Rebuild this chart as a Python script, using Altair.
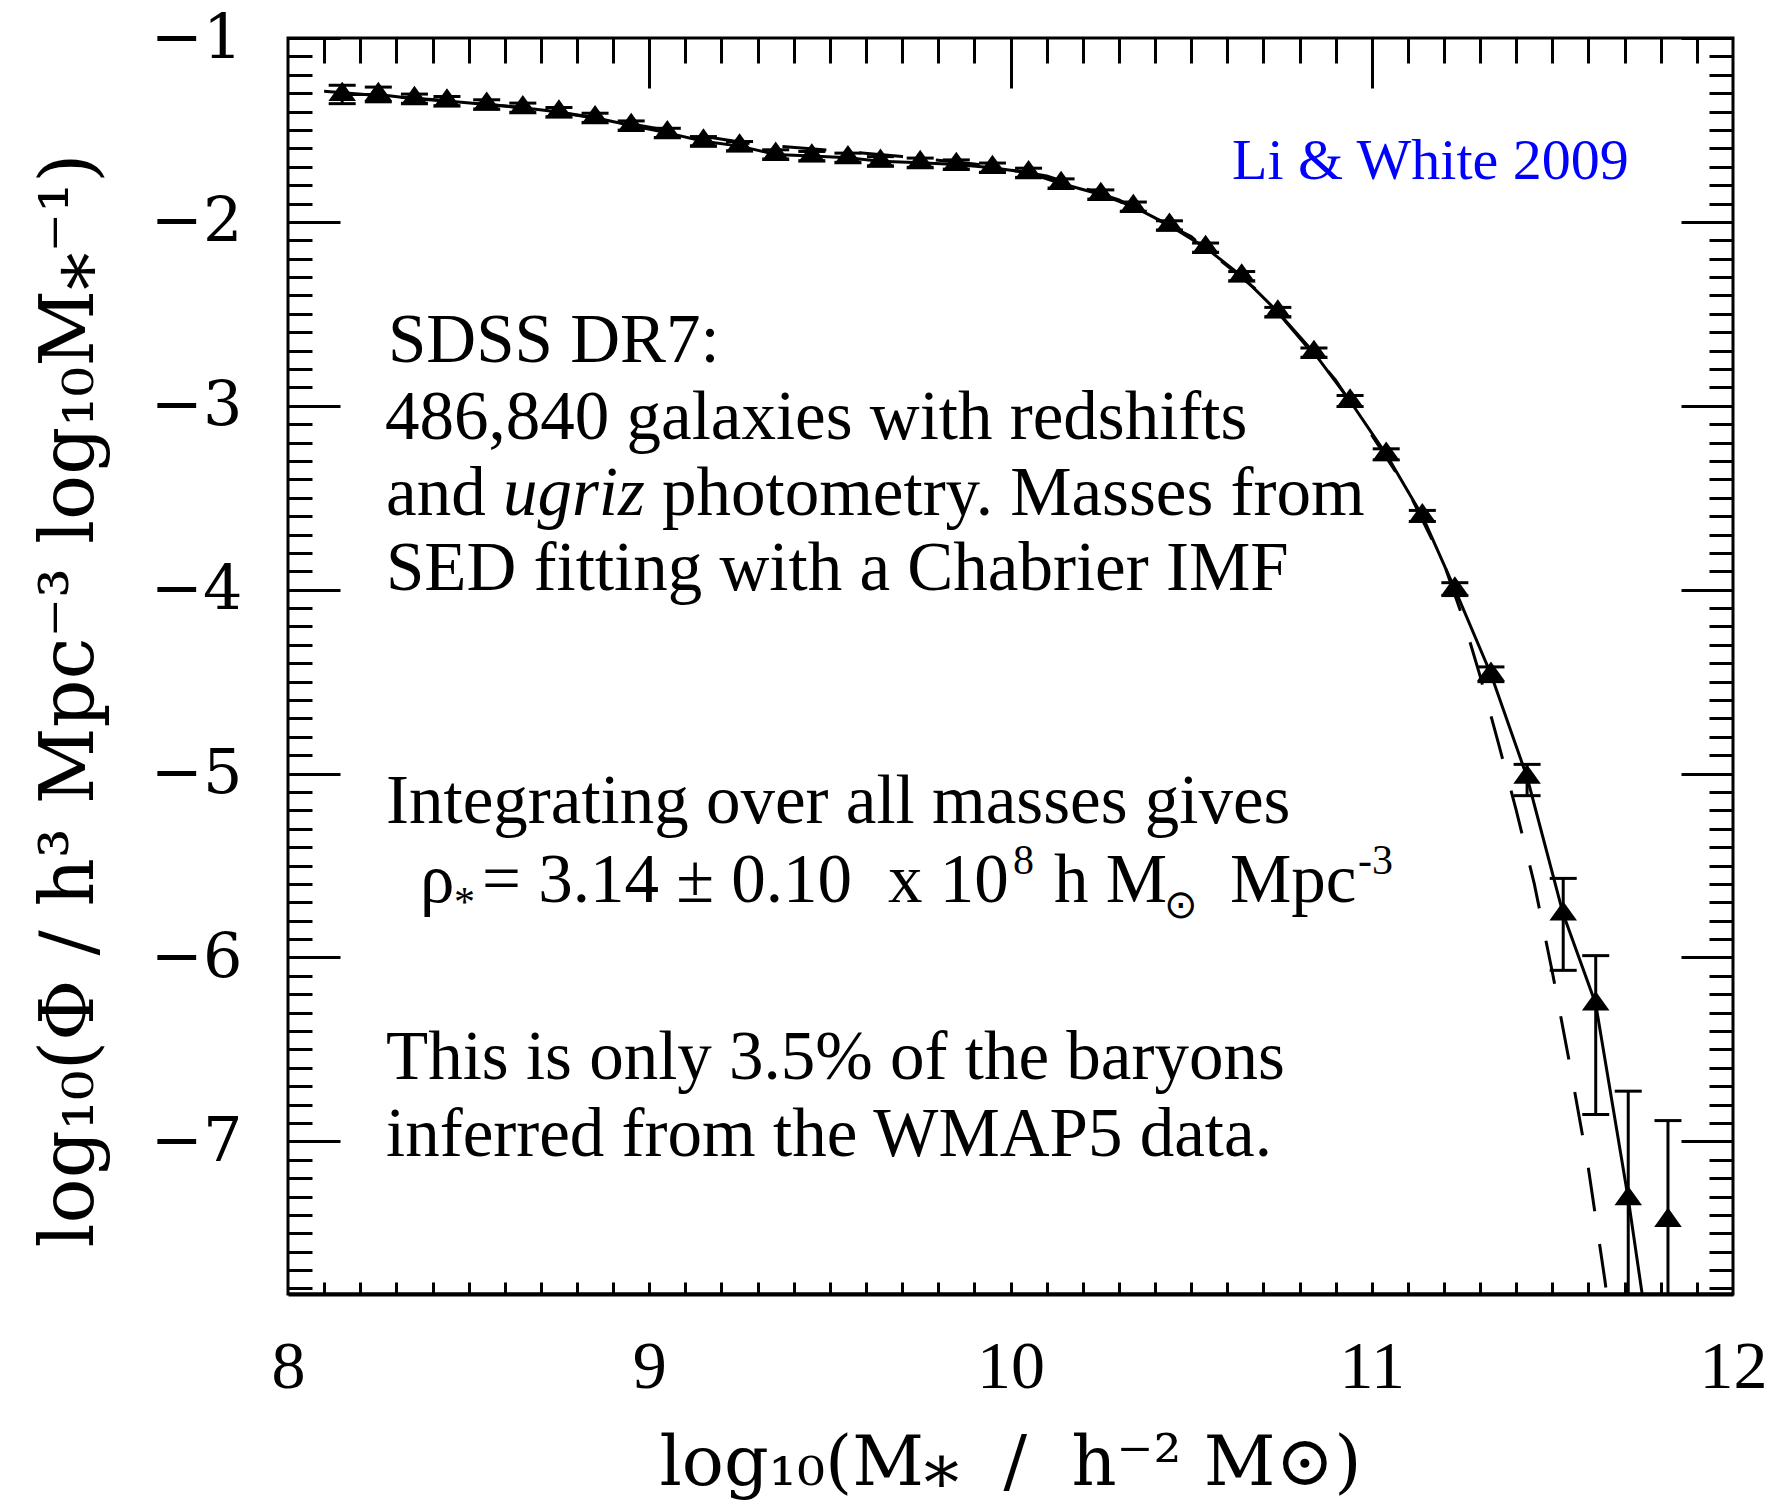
import altair as alt
import pandas as pd

# ---- stellar mass function (SDSS DR7) ----
MASS = [8.15, 8.25, 8.35, 8.44, 8.55, 8.65, 8.75, 8.85, 8.95, 9.05,
        9.15, 9.25, 9.35, 9.45, 9.55, 9.64, 9.75, 9.85, 9.95, 10.05,
        10.14, 10.25, 10.34, 10.44, 10.54, 10.64, 10.74, 10.84, 10.94, 11.04,
        11.14, 11.23, 11.33, 11.43, 11.53, 11.62, 11.71, 11.82]
LOGPHI = [-1.307, -1.307, -1.330, -1.343, -1.361, -1.379, -1.403, -1.434, -1.476, -1.516,
          -1.561, -1.588, -1.633, -1.642, -1.651, -1.670, -1.678, -1.688, -1.705, -1.733,
          -1.791, -1.851, -1.917, -2.019, -2.140, -2.295, -2.490, -2.711, -2.974, -3.264,
          -3.599, -3.997, -4.460, -5.020, -5.764, -6.253, -7.312, -7.430]
PHI_HI = [-1.257, -1.267, -1.305, -1.318, -1.336, -1.354, -1.378, -1.409, -1.451, -1.491,
          -1.536, -1.563, -1.608, -1.617, -1.626, -1.645, -1.653, -1.663, -1.680, -1.708,
          -1.766, -1.826, -1.892, -1.994, -2.115, -2.270, -2.465, -2.686, -2.944, -3.234,
          -3.569, -3.962, -4.420, -4.950, -5.570, -5.990, -6.727, -6.887]
PHI_LO = [-1.357, -1.347, -1.355, -1.368, -1.386, -1.404, -1.428, -1.459, -1.501, -1.541,
          -1.586, -1.613, -1.658, -1.667, -1.676, -1.695, -1.703, -1.713, -1.730, -1.758,
          -1.816, -1.876, -1.942, -2.044, -2.165, -2.320, -2.515, -2.736, -3.004, -3.294,
          -3.629, -4.032, -4.500, -5.120, -6.070, -6.854, -8.600, -8.600]

# best-fitting curve (solid) and single-component fit (dashed)
SOLID_MASS = [8.15, 8.25, 8.35, 8.44, 8.55, 8.65, 8.75, 8.85, 8.95, 9.05,
              9.15, 9.25, 9.35, 9.45, 9.55, 9.64, 9.75, 9.85, 9.95, 10.05,
              10.14, 10.25, 10.34, 10.44, 10.54, 10.64, 10.74, 10.84, 10.94, 11.04,
              11.14, 11.23, 11.33, 11.43, 11.53, 11.62, 11.71, 11.75]
SOLID_LOGPHI = [-1.307, -1.307, -1.330, -1.343, -1.361, -1.379, -1.403, -1.434, -1.476, -1.516,
                -1.561, -1.588, -1.633, -1.642, -1.651, -1.670, -1.678, -1.688, -1.705, -1.733,
                -1.791, -1.851, -1.917, -2.019, -2.140, -2.295, -2.490, -2.711, -2.974, -3.264,
                -3.599, -3.997, -4.460, -5.020, -5.764, -6.253, -7.312, -7.850]
DASH_MASS = [8.10, 8.30, 8.50, 8.70, 8.90, 9.10, 9.30, 9.50, 9.70, 9.90,
             10.10, 10.30, 10.50, 10.70, 10.90, 11.10, 11.20, 11.25, 11.30, 11.35,
             11.40, 11.45, 11.50, 11.55, 11.60, 11.645, 11.66]
DASH_LOGPHI = [-1.29, -1.32, -1.35, -1.39, -1.45, -1.52, -1.58, -1.61, -1.645, -1.685,
               -1.75, -1.88, -2.08, -2.40, -2.86, -3.46, -3.86, -4.14, -4.47, -4.83,
               -5.20, -5.60, -6.08, -6.60, -7.15, -7.75, -7.97]

# ---- axes ----
X_DOMAIN = [8, 12]
Y_DOMAIN = [-7.83, -1]
X_MAJOR = [8, 9, 10, 11, 12]
X_MAJOR_INNER = [9, 10, 11]
X_MINOR = [round(8 + 0.1 * i, 1) for i in range(1, 40) if i % 10]
X_ALL = [round(8 + 0.1 * i, 1) for i in range(1, 40)]
Y_MAJOR = [-1, -2, -3, -4, -5, -6, -7]
Y_MINOR = [round(-1 - 0.1 * i, 1) for i in range(1, 69) if i % 10]

X_TITLE = "log\u2081\u2080(M\u204e\u00a0 /\u00a0 h\u207b\u00b2 M\u2299)"
Y_TITLE = "log\u2081\u2080(\u03a6 / h\u00b3 Mpc\u207b\u00b3 log\u2081\u2080M\u204e\u207b\u00b9)"

# ---- annotation text ----
NOTE_LINES = ["SDSS DR7:",
              "486,840 galaxies with redshifts",
              "SED fitting with a Chabrier IMF",
              "Integrating over all masses gives",
              "This is only 3.5% of the baryons",
              "inferred from the WMAP5 data."]
NOTE_AND = ["and ", "ugriz", "photometry. Masses from"]
RHO_PARTS = ["\u03c1", "*", "= 3.14 \u00b1 0.10", "x 10", "8", "h M", "\u2299", "Mpc", "-3"]
CREDIT = "Li & White 2009"

W, H = 1445, 1256
SERIF = "Liberation Serif"
AXFONT = "DejaVu Serif"

points = pd.DataFrame({"mass": MASS, "logphi": LOGPHI, "hi": PHI_HI, "lo": PHI_LO})
solid = pd.DataFrame({"mass": SOLID_MASS, "logphi": SOLID_LOGPHI})
dashed = pd.DataFrame({"mass": DASH_MASS, "logphi": DASH_LOGPHI})

XS = alt.Scale(domain=X_DOMAIN, nice=False, zero=False)
YS = alt.Scale(domain=Y_DOMAIN, nice=False, zero=False)


def enc_xy(ycol="logphi"):
    return dict(x=alt.X("mass:Q", scale=XS, axis=None),
                y=alt.Y(f"{ycol}:Q", scale=YS, axis=None))


dash_line = alt.Chart(dashed).mark_line(
    color="black", strokeWidth=3, strokeDash=[44, 33], clip=True
).encode(**enc_xy())

solid_line = alt.Chart(solid).mark_line(
    color="black", strokeWidth=3, clip=True
).encode(**enc_xy())

err_bars = alt.Chart(points).mark_rule(color="black", strokeWidth=3, clip=True).encode(
    x=alt.X("mass:Q", scale=XS, axis=None),
    y=alt.Y("lo:Q", scale=YS, axis=None),
    y2="hi:Q",
)
cap_hi = alt.Chart(points).mark_tick(
    orient="horizontal", size=27, thickness=3, color="black", opacity=1, clip=True
).encode(**enc_xy("hi"))
cap_lo = alt.Chart(points).mark_tick(
    orient="horizontal", size=27, thickness=3, color="black", opacity=1, clip=True
).encode(**enc_xy("lo"))

markers = alt.Chart(points).mark_point(
    shape="M0,-0.93L1,0.47L-1,0.47Z", filled=True, size=760, color="black", opacity=1
).encode(**enc_xy())


def tick_axis(orient, offset, values, size):
    return alt.Axis(orient=orient, offset=offset, values=values, tickSize=size,
                    tickWidth=3, tickColor="black", labels=False, domain=False,
                    grid=False, title="")


def axis_layer(xaxis, yaxis):
    return alt.Chart(points).mark_point(opacity=0).encode(
        x=alt.X("mass:Q", scale=XS, axis=xaxis),
        y=alt.Y("logphi:Q", scale=YS, axis=yaxis),
    )


y_label_axis = alt.Axis(
    orient="left", values=Y_MAJOR, ticks=False, domain=False, grid=False,
    labelFont=AXFONT, labelFontSize=62, labelColor="black", labelPadding=46,
    labelOverlap=False, labelBound=False, labelFlush=False,
    title=Y_TITLE, titleFont=AXFONT, titleFontSize=75, titleFontWeight="normal",
    titleColor="black", titleAngle=270, titleAlign="center", titleBaseline="alphabetic",
    titleX=-196, titleY=662,
)
x_label_axis = alt.Axis(
    orient="bottom", values=X_MAJOR, ticks=False, domain=True, domainWidth=4,
    domainColor="black", grid=False,
    labelFont=SERIF, labelFontSize=68, labelColor="black", labelPadding=93,
    labelBaseline="alphabetic", labelOverlap=False, labelBound=False, labelFlush=False,
    title=X_TITLE, titleFont=AXFONT, titleFontSize=70, titleFontWeight="normal",
    titleColor="black", titleAlign="center", titleBaseline="alphabetic",
    titleX=722, titleY=190,
)

axes = [
    axis_layer(x_label_axis, y_label_axis),
    axis_layer(tick_axis("top", -H, X_ALL, 12), tick_axis("right", -W, Y_MINOR, 24)),
    axis_layer(tick_axis("bottom", -H, X_MINOR, 25), tick_axis("right", -W, Y_MAJOR, 52)),
    axis_layer(tick_axis("bottom", -H, X_MAJOR_INNER, 50), tick_axis("left", -W, Y_MINOR, 24)),
    axis_layer(None, tick_axis("left", -W, Y_MAJOR, 52)),
]


def text_layer(s, x, y, size=69, style="normal", color="black", font=SERIF):
    return alt.Chart(pd.DataFrame({"t": [s]})).mark_text(
        align="left", baseline="alphabetic", font=font, fontSize=size,
        fontStyle=style, color=color,
    ).encode(x=alt.value(x), y=alt.value(y), text="t:N")


texts = [
    text_layer(NOTE_LINES[0], 100, 324),
    text_layer(NOTE_LINES[1], 97, 401),
    text_layer(NOTE_AND[0], 98, 477),
    text_layer(NOTE_AND[1], 215, 477, style="italic"),
    text_layer(NOTE_AND[2], 374, 477),
    text_layer(NOTE_LINES[2], 98, 552),
    text_layer(NOTE_LINES[3], 98, 785),
    text_layer(RHO_PARTS[0], 132, 864),
    text_layer(RHO_PARTS[1], 166, 878, size=42),
    text_layer(RHO_PARTS[2], 194, 864),
    text_layer(RHO_PARTS[3], 600, 864),
    text_layer(RHO_PARTS[4], 725, 836, size=42),
    text_layer(RHO_PARTS[5], 766, 864),
    text_layer(RHO_PARTS[6], 876, 880, size=40),
    text_layer(RHO_PARTS[7], 942, 864),
    text_layer(RHO_PARTS[8], 1070, 836, size=42),
    text_layer(NOTE_LINES[4], 98, 1041),
    text_layer(NOTE_LINES[5], 98, 1118),
    text_layer(CREDIT, 944, 141, size=58, color="#0000ff"),
]

chart = alt.layer(
    *axes, dash_line, solid_line, err_bars, cap_hi, cap_lo, markers, *texts
).resolve_axis(
    x="independent", y="independent"
).properties(
    width=W, height=H,
    padding={"left": 288, "top": 38, "right": 58, "bottom": 207},
    autosize=alt.AutoSizeParams(type="none"),
    background="white",
).configure_view(
    stroke="black", strokeWidth=3,
)

chart.save("out.html", embed_options={"renderer": "svg", "actions": False})
